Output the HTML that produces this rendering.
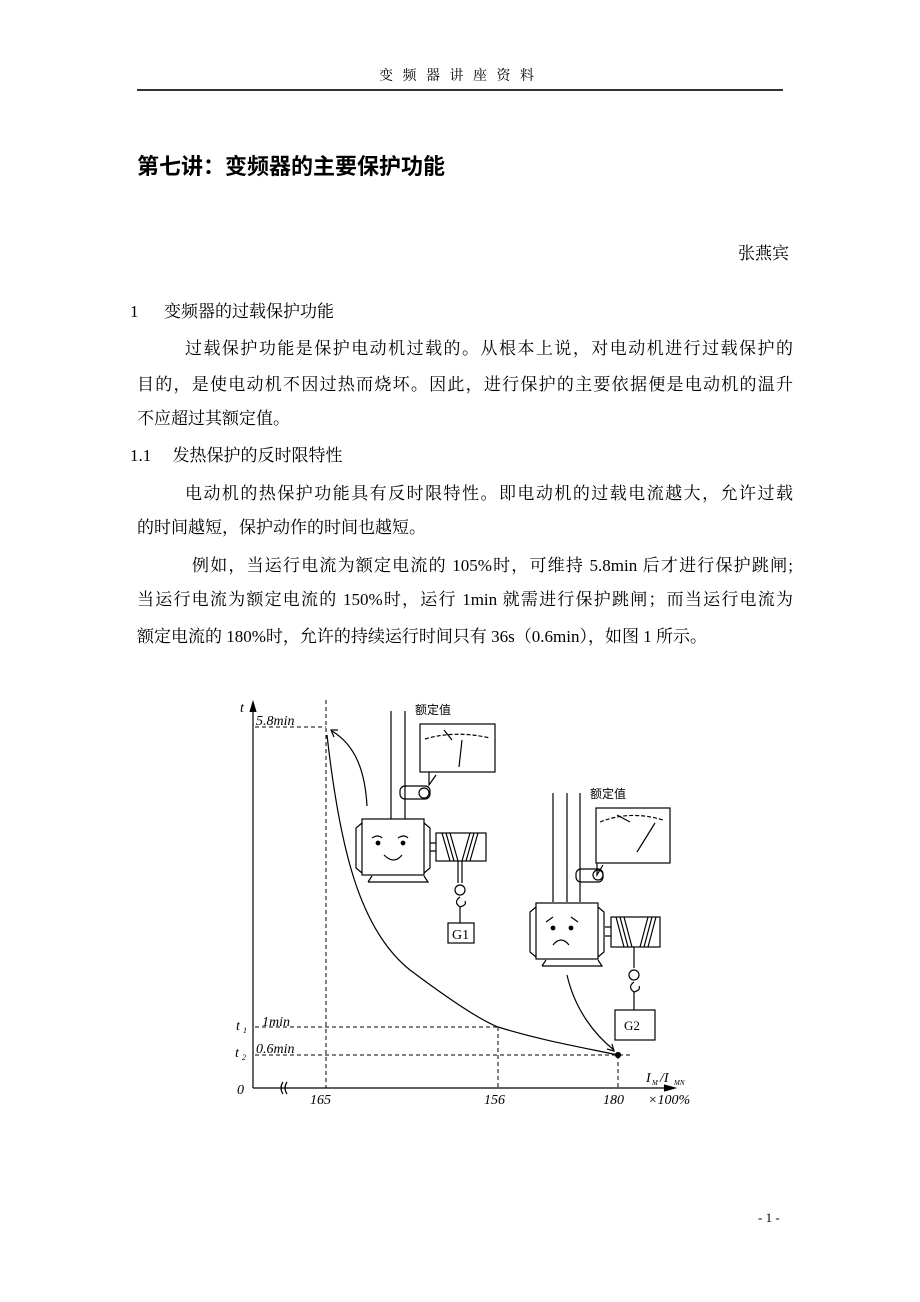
<!DOCTYPE html>
<html><head><meta charset="utf-8"><style>
body{margin:0;background:#fff;}
#p{position:relative;width:920px;height:1302px;overflow:hidden;font-family:"Liberation Serif","Noto Serif CJK SC","Noto Sans CJK SC",serif;color:#000;}
.t{position:absolute;font-size:17px;white-space:nowrap;line-height:20px;}
.j{text-align:justify;text-align-last:justify;white-space:normal;}
</style></head><body><div id="p">
<div class="t" style="left:379px;top:67px;font-size:14px;letter-spacing:9.5px;">变频器讲座资料</div>
<div style="position:absolute;left:137px;top:89px;width:646px;height:2px;background:#333;"></div>
<div class="t" style="left:137px;top:152px;font-size:22px;font-weight:bold;line-height:26px;font-family:'Noto Sans CJK SC',sans-serif;letter-spacing:0;">第七讲：变频器的主要保护功能</div>
<div class="t" style="left:738px;top:244px;font-size:17px;">张燕宾</div>
<div class="t" style="left:130px;top:302px;">1&nbsp;&nbsp;&nbsp;&nbsp;&nbsp;&nbsp;变频器的过载保护功能</div>
<div class="t j" style="left:185px;top:339px;width:608px;">过载保护功能是保护电动机过载的。从根本上说，对电动机进行过载保护的</div>
<div class="t j" style="left:137px;top:375px;width:656px;">目的，是使电动机不因过热而烧坏。因此，进行保护的主要依据便是电动机的温升</div>
<div class="t" style="left:137px;top:409px;">不应超过其额定值。</div>
<div class="t" style="left:130px;top:446px;">1.1&nbsp;&nbsp;&nbsp;&nbsp;&nbsp;发热保护的反时限特性</div>
<div class="t j" style="left:185px;top:484px;width:608px;">电动机的热保护功能具有反时限特性。即电动机的过载电流越大，允许过载</div>
<div class="t" style="left:137px;top:518px;">的时间越短，保护动作的时间也越短。</div>
<div class="t j" style="left:192px;top:556px;width:601px;">例如，当运行电流为额定电流的 105%时，可维持 5.8min 后才进行保护跳闸;</div>
<div class="t j" style="left:137px;top:590px;width:656px;">当运行电流为额定电流的 150%时，运行 1min 就需进行保护跳闸；而当运行电流为</div>
<div class="t" style="left:137px;top:627px;">额定电流的 180%时，允许的持续运行时间只有 36s（0.6min），如图 1 所示。</div>

<svg style="position:absolute;left:0;top:0" width="920" height="1302" viewBox="0 0 920 1302" fill="none" stroke="#000" stroke-width="1.2" font-family="Liberation Serif, serif">
<line x1="253" y1="705" x2="253" y2="1088"/>
<path d="M250 712 L253 702 L256 712" fill="#000"/>
<line x1="253" y1="1088" x2="672" y2="1088"/>
<path d="M664 1085 L675 1088 L664 1091" fill="#000"/>
<path d="M283 1082 q-4 6 0 12 M287 1082 q-4 6 0 12"/>
<g stroke-dasharray="4,3" stroke-width="1">
<line x1="255" y1="727" x2="326" y2="727"/>
<line x1="326" y1="700" x2="326" y2="1088"/>
<line x1="255" y1="1027" x2="498" y2="1027"/>
<line x1="498" y1="1027" x2="498" y2="1088"/>
<line x1="255" y1="1055" x2="632" y2="1055"/>
<line x1="618" y1="1055" x2="618" y2="1088"/>
</g>
<path d="M327 735 C340 850 360 930 410 970 C450 1000 480 1020 498 1027 C540 1040 580 1047 618 1055"/>
<circle cx="618" cy="1055" r="2.5" fill="#000"/>
<path d="M367 806 C365 770 355 745 332 731"/>
<path d="M338 730 L331 730 L334 737"/>
<path d="M567 975 C575 1010 595 1035 614 1050"/>
<path d="M607 1049 L614 1051 L612 1044"/>
<g fill="#000" stroke="none" font-style="italic" font-size="14">
<text x="240" y="712">t</text>
<text x="256" y="725">5.8min</text>
<text x="236" y="1030">t</text><text x="243" y="1033" font-size="8">1</text>
<text x="262" y="1026">1min</text>
<text x="235" y="1057">t</text><text x="242" y="1060" font-size="8">2</text>
<text x="256" y="1053">0.6min</text>
<text x="237" y="1094">0</text>
<text x="310" y="1104">165</text>
<text x="484" y="1104">156</text>
<text x="603" y="1104">180</text>
<text x="648" y="1104">×100%</text>
<text x="646" y="1082">I</text><text x="652" y="1085" font-size="7">M</text>
<text x="660" y="1082">/I</text><text x="674" y="1085" font-size="7">MN</text>
</g>
<g fill="#000" stroke="none" font-size="12" font-family="Noto Sans CJK SC, sans-serif">
<text x="415" y="714">额定值</text>
<text x="590" y="798">额定值</text>
</g>
<line x1="391" y1="711" x2="391" y2="819"/>
<line x1="405" y1="711" x2="405" y2="819"/>
<rect x="420" y="724" width="75" height="48"/>
<path d="M425 739 Q455 730 490 738" stroke-dasharray="4,2"/>
<line x1="462" y1="740" x2="459" y2="767"/>
<path d="M429 772 L429 785 L436 775 M452 740 L444 730"/>
<rect x="400" y="786" width="30" height="13" rx="5"/>
<circle cx="424" cy="793" r="5"/>
<rect x="362" y="819" width="62" height="56"/>
<path d="M362 823 l-6 5 v40 l6 5 M424 823 l6 5 v40 l-6 5"/>
<path d="M368 882 h60 l-4 -6 M368 882 l4 -6"/>
<circle cx="378" cy="843" r="1.8" fill="#000"/><circle cx="403" cy="843" r="1.8" fill="#000"/>
<path d="M372 838 q6 -4 10 0 M398 838 q6 -4 10 0 M384 855 q10 10 18 0"/>
<rect x="436" y="833" width="50" height="28"/>
<path d="M442 833 l8 28 M446 833 l8 28 M450 833 l8 28 M470 833 l-8 28 M474 833 l-8 28 M478 833 l-8 28"/>
<path d="M430 843 h6 M430 851 h6"/>
<line x1="458" y1="861" x2="458" y2="883"/><line x1="462" y1="861" x2="462" y2="883"/>
<circle cx="460" cy="890" r="5"/>
<path d="M460 897 q-7 5 0 10 q7 -2 5 -6"/>
<line x1="460" y1="907" x2="460" y2="923"/>
<rect x="448" y="923" width="26" height="20"/>
<text x="452" y="939" fill="#000" stroke="none" font-size="14">G1</text>
<line x1="553" y1="793" x2="553" y2="902"/>
<line x1="567" y1="793" x2="567" y2="902"/>
<line x1="580" y1="793" x2="580" y2="902"/>
<rect x="596" y="808" width="74" height="55"/>
<path d="M600 822 Q630 810 663 820" stroke-dasharray="4,2"/>
<line x1="655" y1="823" x2="637" y2="852"/>
<path d="M597 863 L597 875 L603 865 M630 822 L617 815"/>
<rect x="576" y="869" width="27" height="13" rx="5"/>
<circle cx="598" cy="875" r="5"/>
<rect x="536" y="903" width="62" height="56"/>
<path d="M536 907 l-6 5 v40 l6 5 M598 907 l6 5 v40 l-6 5"/>
<path d="M542 966 h60 l-4 -6 M542 966 l4 -6"/>
<circle cx="553" cy="928" r="1.8" fill="#000"/><circle cx="571" cy="928" r="1.8" fill="#000"/>
<path d="M546 922 l7 -5 M578 922 l-7 -5 M553 945 q8 -10 16 0"/>
<rect x="611" y="917" width="49" height="30"/>
<path d="M616 917 l8 30 M620 917 l8 30 M624 917 l8 30 M648 917 l-8 30 M652 917 l-8 30 M656 917 l-8 30"/>
<path d="M605 927 h6 M605 936 h6"/>
<line x1="634" y1="947" x2="634" y2="968"/>
<circle cx="634" cy="975" r="5"/>
<path d="M634 982 q-7 5 0 10 q7 -2 5 -6"/>
<line x1="634" y1="992" x2="634" y2="1010"/>
<rect x="615" y="1010" width="40" height="30"/>
<text x="624" y="1030" fill="#000" stroke="none" font-size="13">G2</text>
</svg>

<div class="t" style="left:758px;top:1208px;font-size:13px;">- 1 -</div>
</div></body></html>
